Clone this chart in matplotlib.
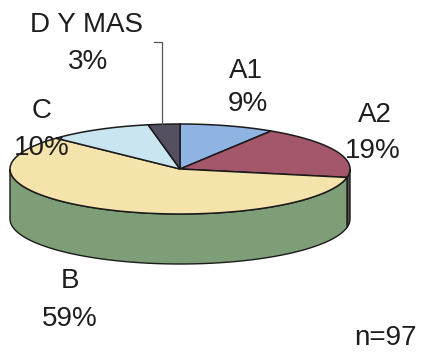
import numpy as np
import matplotlib
matplotlib.use("Agg")
import matplotlib.pyplot as plt
from matplotlib.patches import Polygon

plt.rcParams['font.family'] = ['Liberation Sans', 'DejaVu Sans']

categories = ["A1", "A2", "B", "C", "D Y MAS"]
shares = [9, 19, 59, 10, 3]
top_colors = ["#8fb3e2", "#a4566a", "#f4e3aa", "#c9e5ef", "#545061"]
side_colors = ["#6f8fb8", "#5e4a52", "#7e9e78", "#9fbcc6", "#3c3946"]
sample_note = "n=97"

W, H = 423, 358
fig = plt.figure(figsize=(W / 100, H / 100), dpi=100)
ax = fig.add_axes([0, 0, 1, 1])
ax.set_xlim(0, W)
ax.set_ylim(H, 0)
ax.axis("off")

cx, cy, rx, ry, depth = 180, 169, 170, 45, 50


def pt(theta_deg, dy=0.0):
    t = np.radians(theta_deg)
    return cx + rx * np.cos(t), cy - ry * np.sin(t) + dy


# slice angles, clockwise from the top
fracs = np.array(shares, dtype=float) / np.sum(shares)
bounds = 90 - 360 * np.concatenate([[0], np.cumsum(fracs)])

# side walls (only the front half, sin(theta) < 0, is visible)
for i in range(len(shares)):
    a0, a1 = bounds[i], bounds[i + 1]  # a0 > a1
    for shift in (0, -360, 360):
        lo, hi = max(a1 + shift, -180), min(a0 + shift, 0)
        if hi > lo:
            th = np.linspace(hi, lo, 80)
            top = [pt(t) for t in th]
            bot = [pt(t, depth) for t in th[::-1]]
            ax.add_patch(Polygon(top + bot, closed=True, facecolor=side_colors[i],
                                 edgecolor="#1a1a1a", linewidth=1.0, zorder=1))

# top faces
for i in range(len(shares)):
    a0, a1 = bounds[i], bounds[i + 1]
    th = np.linspace(a0, a1, 120)
    verts = [(cx, cy)] + [pt(t) for t in th]
    ax.add_patch(Polygon(verts, closed=True, facecolor=top_colors[i],
                         edgecolor="#1a1a1a", linewidth=1.1, zorder=2))

# labels
txt = dict(fontsize=20, color="#1e1e1e", ha="center", va="center", zorder=5)
label_pos = {
    "A1": [(246, 71), (248, 104)],
    "A2": [(375, 115), (373, 151)],
    "B": [(70, 281), (70, 319)],
    "C": [(42, 111), (42, 148)],
    "D Y MAS": [(87, 25), (88, 62)],
}
for name, s in zip(categories, shares):
    (x1, y1), (x2, y2) = label_pos[name]
    ax.text(x1, y1, name, **txt)
    ax.text(x2, y2, f"{s}%", **txt)

# leader line for the small slice
ax.plot([154, 162, 162], [42, 42, 124], color="#555555", linewidth=0.9, zorder=4)

ax.text(385, 338, sample_note, **txt)

fig.savefig("out.png", dpi=100)
